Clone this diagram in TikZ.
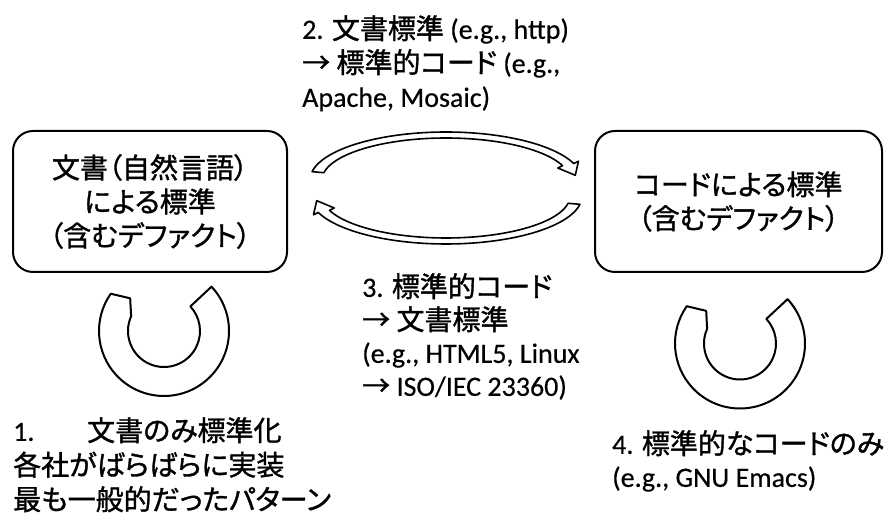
\documentclass[tikz,border=0pt]{standalone}
\usepackage{fontspec}
\setmainfont{Carlito}[FakeBold=0.4]
\newfontfamily\jp{Noto Sans CJK JP}[RawFeature=+palt, FakeBold=1.2]
\begin{document}
\begin{tikzpicture}[x=1pt,y=1pt,
  stdbox/.style={draw, line width=2pt, rounded corners=20pt, align=center,
    inner sep=0pt, font={\jp\fontsize{28}{34}\selectfont}},
  caption/.style={inner sep=0pt, align=left, anchor=north west,
    font={\fontsize{28}{34}\selectfont}},
  blockarrow/.style={draw, line width=1.6pt, fill=white, line join=round},
  loopring/.style={draw, line width=2pt, fill=white, line join=round}]
\useasboundingbox (0,0) rectangle (884,516);

% the two kinds of standard
\node[stdbox, minimum width=274pt, minimum height=141pt] (docstd) at (150,314.5)
  {文書（自然言語）\\による標準\\（含むデファクト）};
\node[stdbox, minimum width=287pt, minimum height=141pt] (codestd) at (738.5,314.5)
  {コードによる標準\\（含むデファクト）};

% upper curved block arrow: document standard -> code
\draw[blockarrow]
  plot[domain=170:20,samples=60] ({446+136*cos(\x)},{336+48*sin(\x)})
  -- ({446+141*cos(20)},{336+55*sin(20)})
  -- ({446+130*cos(6)},{336+45*sin(6)})
  -- ({446+119*cos(20)},{336+35*sin(20)})
  -- plot[domain=20:170,samples=60] ({446+124*cos(\x)},{336+42*sin(\x)})
  -- cycle;

% lower curved block arrow: code -> document standard
\draw[blockarrow]
  plot[domain=170:20,samples=60] ({446-136*cos(\x)},{320-48*sin(\x)})
  -- ({446-141*cos(20)},{320-55*sin(20)})
  -- ({446-130*cos(6)},{320-45*sin(6)})
  -- ({446-119*cos(20)},{320-35*sin(20)})
  -- plot[domain=20:170,samples=60] ({446-124*cos(\x)},{320-42*sin(\x)})
  -- cycle;

% self loops under each box
\coordinate (loopL) at (164,185);
\coordinate (loopR) at (740,172.5);
\foreach \c in {loopL,loopR}{
  \draw[loopring]
    ([shift={(43:65)}]\c) arc[start angle=43, end angle=-215, radius=65]
    -- ([shift={(136:47)}]\c)
    -- ([shift={(156:36)}]\c) arc[start angle=156, end angle=403, radius=36]
    -- cycle;
}

% captions
\node[caption] (cap2) at (302,501)
  {2. {\jp 文書標準} (e.g., http)\\{\jp →} {\jp 標準的コード} (e.g.,\\Apache, Mosaic)};
\node[caption, font={\fontsize{28}{33}\selectfont}] (cap3) at (362,243)
  {3. {\jp 標準的コード}\\{\jp →} {\jp 文書標準}\\(e.g., HTML5, Linux\\{\jp →} ISO/IEC 23360)};
\node[caption, font={\fontsize{28}{34.5}\selectfont}] (cap1) at (13,99)
  {\makebox[74pt][l]{1.}{\jp 文書のみ標準化}\\{\jp 各社がばらばらに実装}\\{\jp 最も一般的だったパターン}};
\node[caption, font={\fontsize{28}{33}\selectfont}] (cap4) at (612,86)
  {4. {\jp 標準的なコードのみ}\\(e.g., GNU Emacs)};
\end{tikzpicture}
\end{document}
